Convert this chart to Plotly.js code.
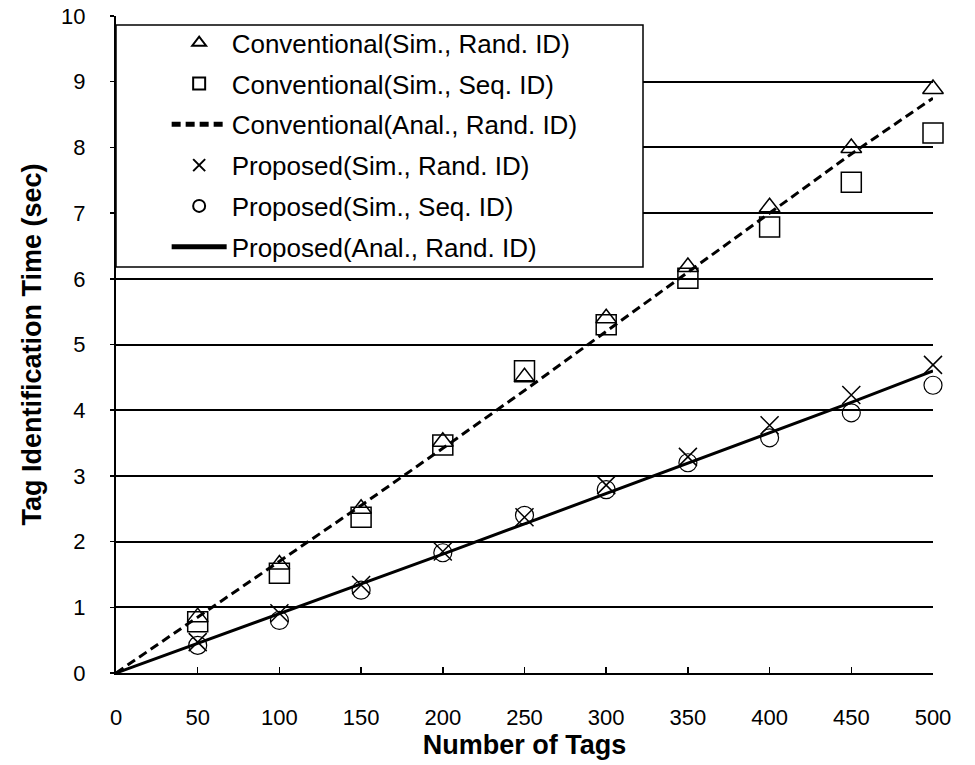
<!DOCTYPE html>
<html>
<head>
<meta charset="utf-8">
<script src="https://cdn.plot.ly/plotly-3.0.1.min.js"></script>
<style>html,body{margin:0;padding:0;background:#fff;}#chart{width:975px;height:765px;}</style>
</head>
<body>
<div id="chart"></div>
<script>
// Data
var tags = [50, 100, 150, 200, 250, 300, 350, 400, 450, 500];
var convSimRand = [0.85, 1.65, 2.5, 3.52, 4.5, 5.4, 6.18, 7.09, 7.99, 8.89];
var convSimSeq  = [0.78, 1.52, 2.37, 3.47, 4.6, 5.3, 6.01, 6.79, 7.47, 8.22];
var propSimRand = [0.47, 0.91, 1.34, 1.85, 2.37, 2.86, 3.29, 3.77, 4.23, 4.69];
var propSimSeq  = [0.42, 0.8, 1.26, 1.83, 2.4, 2.79, 3.2, 3.58, 3.96, 4.38];
var tagsLine = [0, 50, 100, 150, 200, 250, 300, 350, 400, 450, 500];
var convAnal = [0, 0.85, 1.7, 2.55, 3.42, 4.3, 5.2, 6.1, 7.0, 7.9, 8.75];
var propAnal = [0, 0.45, 0.9, 1.35, 1.81, 2.27, 2.73, 3.19, 3.65, 4.12, 4.6];
var names = [
  'Conventional(Sim., Rand. ID)',
  'Conventional(Sim., Seq. ID)',
  'Conventional(Anal., Rand. ID)',
  'Proposed(Sim., Rand. ID)',
  'Proposed(Sim., Seq. ID)',
  'Proposed(Anal., Rand. ID)'
];

var FONT = 'Liberation Sans, Arial, Helvetica, sans-serif';
var traces = [
  {x: tags, y: convSimRand, name: names[0], legendgroup: 'a', mode: 'markers', cliponaxis: false,
   marker: {symbol: 'triangle-up-open', size: 18, color: '#000', line: {width: 1.5, color: '#000'}}},
  {x: tags, y: convSimSeq, name: names[1], legendgroup: 'b', mode: 'markers', cliponaxis: false,
   marker: {symbol: 'square-open', size: 20, color: '#000', line: {width: 1.5, color: '#000'}}},
  {x: tagsLine, y: convAnal, name: names[2], legendgroup: 'c', mode: 'lines', cliponaxis: false,
   line: {color: '#000', width: 3, dash: '9px,5px'}},
  {x: tags, y: propSimRand, name: names[3], legendgroup: 'd', mode: 'markers', cliponaxis: false,
   marker: {symbol: 'x-thin-open', size: 18, color: '#000', line: {width: 1.5, color: '#000'}}},
  {x: tags, y: propSimSeq, name: names[4], legendgroup: 'e', mode: 'markers', cliponaxis: false,
   marker: {symbol: 'circle-open', size: 18, color: '#000', line: {width: 1.2, color: '#000'}}},
  {x: tagsLine, y: propAnal, name: names[5], legendgroup: 'f', mode: 'lines', cliponaxis: false,
   line: {color: '#000', width: 3}}
];

var layout = {
  width: 975, height: 765,
  margin: {l: 116, r: 42, t: 16, b: 92},
  paper_bgcolor: '#fff', plot_bgcolor: '#fff',
  font: {family: FONT, color: '#000'},
  showlegend: true,
  legend: {
    x: 0.062, xanchor: 'left', y: 0.995, yanchor: 'top',
    bgcolor: 'rgba(0,0,0,0)', borderwidth: 0,
    font: {family: FONT, size: 26, color: '#000'},
    traceorder: 'grouped', tracegroupgap: 4,
    itemwidth: 55, itemsizing: 'constant'
  },
  xaxis: {
    range: [0, 500], dtick: 50, tick0: 0,
    showgrid: false, zeroline: false,
    showline: true, linecolor: '#000', linewidth: 2,
    ticks: 'inside', ticklen: 6, tickcolor: '#000', tickwidth: 1.5,
    tickfont: {family: FONT, size: 22, color: '#000'},
    ticklabelstandoff: 24,
    title: {text: '<b>Number of Tags</b>', font: {family: FONT, size: 27, color: '#000'}, standoff: 4}
  },
  yaxis: {
    range: [0, 10], dtick: 1, tick0: 0,
    showgrid: true, gridcolor: '#000', gridwidth: 2,
    zeroline: false,
    showline: true, linecolor: '#000', linewidth: 2,
    ticks: 'outside', ticklen: 4, tickcolor: '#000', tickwidth: 1.5,
    tickfont: {family: FONT, size: 22, color: '#000'},
    ticklabelstandoff: 20,
    title: {text: '<b>Tag Identification Time (sec)</b>', font: {family: FONT, size: 27, color: '#000'}, standoff: 12}
  },
  shapes: [
    {type: 'rect', xref: 'paper', yref: 'paper', layer: 'above',
     x0: 0, x1: (643 - 116) / 817, y0: (673 - 267) / 657, y1: (673 - 25) / 657,
     fillcolor: '#fff', line: {color: '#000', width: 1.5}}
  ]
};

Plotly.newPlot('chart', traces, layout, {displayModeBar: false, staticPlot: true});
</script>
</body>
</html>
